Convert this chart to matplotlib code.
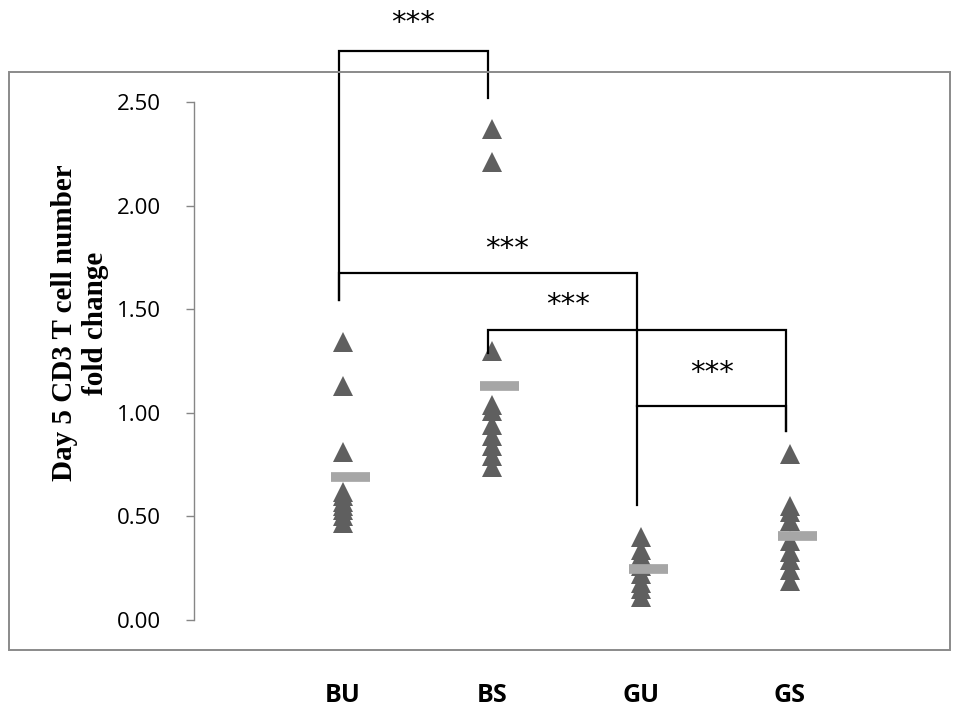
import matplotlib
matplotlib.use('Agg')
import matplotlib.pyplot as plt
from matplotlib.patches import Rectangle

# Day 5 CD3 T cell fold change, one list per group
groups = ['BU', 'BS', 'GU', 'GS']
bu_vals = [1.34, 1.13, 0.81, 0.62, 0.60, 0.57, 0.55, 0.53, 0.50, 0.47]
bs_vals = [2.37, 2.21, 1.30, 1.04, 1.01, 0.94, 0.89, 0.84, 0.79, 0.74]
gu_vals = [0.40, 0.34, 0.31, 0.26, 0.22, 0.18, 0.15, 0.11]
gs_vals = [0.80, 0.55, 0.52, 0.48, 0.38, 0.33, 0.29, 0.24, 0.19]
group_means = [0.69, 1.13, 0.245, 0.405]

yticks = [0.0, 0.5, 1.0, 1.5, 2.0, 2.5]

# significance brackets: (left group, right group, top y, left leg end, right leg end, label x, label y)
brackets = [
    (1, 2, 2.746, 1.545, 2.52, 1.47, 2.88),
    (1, 3, 1.677, 1.545, 0.555, 2.10, 1.79),
    (2, 4, 1.400, 1.29, 0.91, 2.51, 1.52),
    (3, 4, 1.034, 1.034, 0.91, 3.48, 1.19),
]
sig_label = '***'

TRI_COLOR = '#5f5f5f'
MEAN_COLOR = '#a6a6a6'
AXIS_GRAY = '#868686'

W, H = 958, 712
fig = plt.figure(figsize=(W / 100, H / 100), dpi=100)

# outer frame
fig.patches.append(Rectangle((9 / W, (H - 650) / H), (950 - 9) / W, (650 - 72) / H,
                             transform=fig.transFigure, fill=False,
                             edgecolor='#8a8a8a', linewidth=1.4))

ax = fig.add_axes([194 / W, (H - 620) / H, (939 - 194) / W, (620 - 102) / H])
ax.set_xlim(0, 5)
ax.set_ylim(0, 2.5)

for i, vals in enumerate([bu_vals, bs_vals, gu_vals, gs_vals], start=1):
    ax.plot([i] * len(vals), vals, linestyle='none', marker='^',
            markersize=14.5, color=TRI_COLOR, markeredgewidth=0, clip_on=False, zorder=3)
    ax.hlines(group_means[i - 1], i + 0.05 - 0.13, i + 0.05 + 0.13,
              color=MEAN_COLOR, linewidth=7, zorder=4)

for a, b, top, yl, yr, tx, ty in brackets:
    xa, xb = a - 0.025, b - 0.025
    ax.plot([xa, xa, xb, xb], [yl, top, top, yr], color='black',
            linewidth=1.6, clip_on=False, zorder=5, solid_joinstyle='miter')
    ax.text(tx, ty, sig_label, ha='center', va='center', fontsize=21,
            family='DejaVu Sans', clip_on=False)

for i, g in enumerate(groups, start=1):
    ax.text(i, -0.145, g, transform=ax.get_xaxis_transform(), ha='center', va='center',
            fontsize=18, fontweight='bold', family='Open Sans', clip_on=False)

for s in ['top', 'right', 'bottom']:
    ax.spines[s].set_visible(False)
ax.spines['left'].set_color(AXIS_GRAY)
ax.spines['left'].set_linewidth(1.0)
ax.set_xticks([])
ax.set_yticks(yticks)
ax.set_yticklabels([f'{v:.2f}' for v in yticks], family='Open Sans', fontsize=16)
ax.tick_params(axis='y', length=6, color=AXIS_GRAY, width=1.0, pad=18)

fig.text(80 / W, 1 - 323 / H, 'Day 5 CD3 T cell number\nfold change', rotation=90,
         ha='center', va='center', fontsize=21, fontweight='bold',
         family='Liberation Serif', linespacing=1.15, multialignment='center')

fig.savefig('out.png', dpi=100)
